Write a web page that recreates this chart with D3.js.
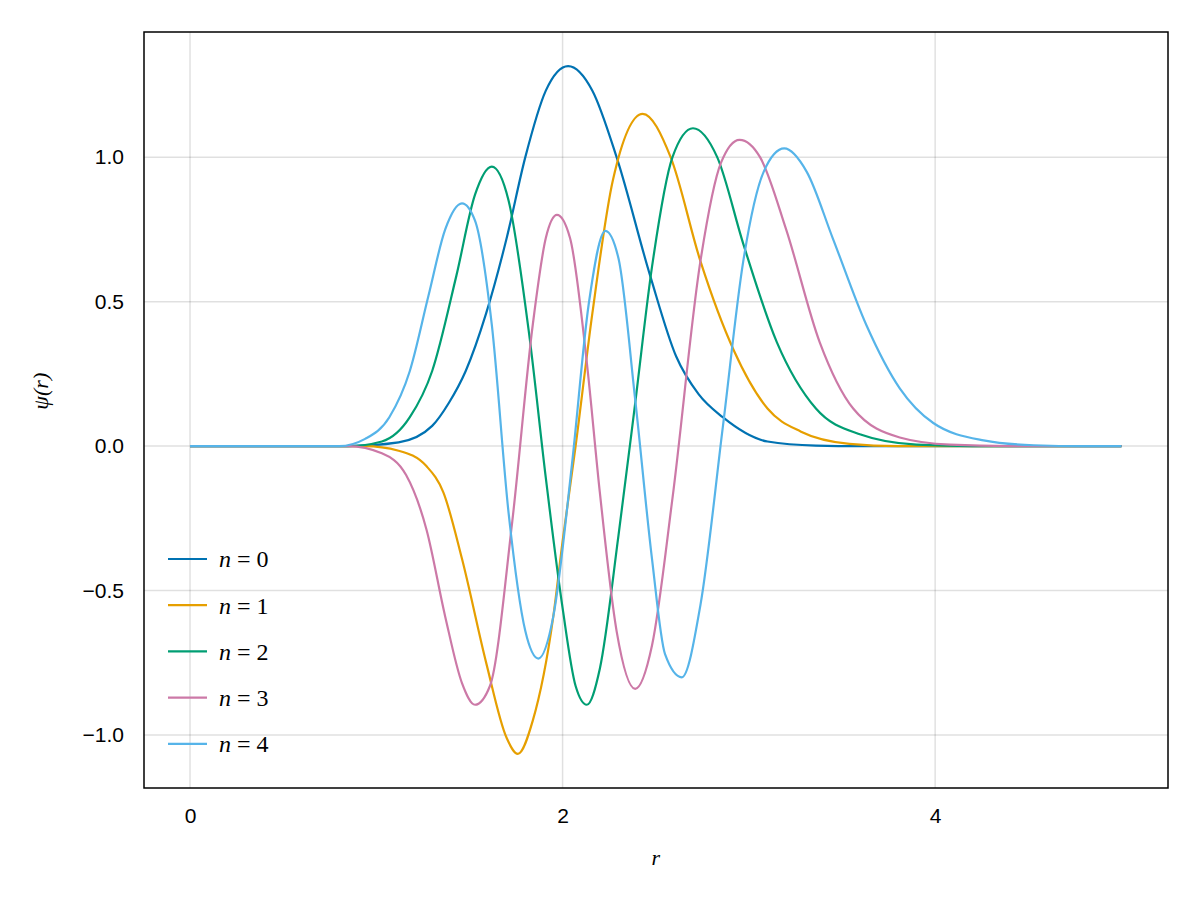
<!DOCTYPE html>
<html>
<head>
<meta charset="utf-8">
<script src="https://cdn.jsdelivr.net/npm/d3@7"></script>
<style>
  body { margin: 0; background: #fff; }
</style>
</head>
<body>
<svg id="chart" width="1200" height="900"></svg>
<script>
// values: [r, psi]
var n0 = [[0,0],[0.85,0],[1.12,0.013],[1.30,0.07],[1.39,0.15],[1.48,0.26],[1.59,0.46],[1.70,0.72],[1.80,1.0],[1.91,1.23],[2.03,1.315],[2.16,1.23],[2.29,1.0],[2.47,0.59],[2.61,0.31],[2.73,0.18],[2.86,0.10],[3.10,0.016],[3.36,0.002],[3.6,0],[5,0]];
var n1 = [[0,0],[0.94,0],[1.12,-0.016],[1.27,-0.07],[1.36,-0.16],[1.46,-0.39],[1.59,-0.75],[1.70,-1.01],[1.76,-1.065],[1.84,-0.95],[1.95,-0.59],[2.0,-0.33],[2.07,0],[2.16,0.46],[2.27,0.92],[2.43,1.15],[2.58,1.0],[2.74,0.64],[2.92,0.33],[3.10,0.13],[3.28,0.05],[3.54,0.008],[3.8,0],[5,0]];
var n2 = [[0,0],[0.85,0],[1.03,0.016],[1.18,0.10],[1.30,0.26],[1.43,0.59],[1.53,0.87],[1.62,0.967],[1.71,0.85],[1.82,0.39],[1.91,-0.11],[2.0,-0.56],[2.07,-0.83],[2.13,-0.895],[2.20,-0.77],[2.30,-0.31],[2.39,0.15],[2.48,0.62],[2.59,1.0],[2.70,1.10],[2.83,1.0],[2.97,0.70],[3.15,0.36],[3.36,0.13],[3.60,0.04],[3.90,0.005],[4.2,0],[5,0]];
var n3 = [[0,0],[0.85,0],[1.03,-0.025],[1.16,-0.10],[1.27,-0.29],[1.37,-0.59],[1.46,-0.82],[1.53,-0.895],[1.61,-0.83],[1.73,-0.26],[1.84,0.42],[1.91,0.72],[1.97,0.80],[2.04,0.72],[2.13,0.29],[2.20,-0.16],[2.29,-0.64],[2.39,-0.84],[2.48,-0.69],[2.59,-0.18],[2.74,0.64],[2.85,0.98],[2.95,1.06],[3.06,1.0],[3.20,0.75],[3.38,0.36],[3.56,0.13],[3.81,0.03],[4.08,0.005],[4.4,0],[5,0]];
var n4 = [[0,0],[0.80,0],[0.94,0.025],[1.07,0.10],[1.18,0.26],[1.28,0.52],[1.37,0.75],[1.46,0.84],[1.53,0.78],[1.62,0.42],[1.71,-0.23],[1.80,-0.64],[1.87,-0.735],[1.95,-0.59],[2.05,-0.065],[2.14,0.49],[2.23,0.745],[2.30,0.65],[2.39,0.16],[2.48,-0.39],[2.55,-0.72],[2.64,-0.80],[2.74,-0.55],[2.86,0.065],[2.97,0.64],[3.08,0.95],[3.19,1.03],[3.31,0.95],[3.45,0.72],[3.63,0.42],[3.81,0.20],[3.99,0.08],[4.26,0.02],[4.53,0.003],[4.8,0],[5,0]];

var series = [n0, n1, n2, n3, n4];
var labels = ["0", "1", "2", "3", "4"];
var colors = ["#0072b2", "#e69f00", "#009e73", "#cc79a7", "#56b4e9"];
var xTicks = [0, 2, 4];
var yTicks = [-1.0, -0.5, 0.0, 0.5, 1.0];

var svg = d3.select("#chart");
var pLeft = 144, pRight = 1168, pTop = 32, pBottom = 788;

var x = d3.scaleLinear().domain([-0.247, 5.25]).range([pLeft, pRight]);
var y = d3.scaleLinear().domain([-1.183, 1.433]).range([pBottom, pTop]);

// grid
svg.append("g").selectAll("line").data(xTicks).enter().append("line")
  .attr("x1", d => x(d)).attr("x2", d => x(d)).attr("y1", pTop).attr("y2", pBottom)
  .attr("stroke", "#000").attr("stroke-opacity", 0.12).attr("stroke-width", 1.5);
svg.append("g").selectAll("line").data(yTicks).enter().append("line")
  .attr("y1", d => y(d)).attr("y2", d => y(d)).attr("x1", pLeft).attr("x2", pRight)
  .attr("stroke", "#000").attr("stroke-opacity", 0.12).attr("stroke-width", 1.5);

// axes
var fmt = d => (d < 0 ? "\u2212" : "") + Math.abs(d).toFixed(1);
var xa = svg.append("g").attr("transform", "translate(0," + pBottom + ")")
  .call(d3.axisBottom(x).tickValues(xTicks).tickSize(0).tickPadding(20).tickFormat(d3.format("d")));
var ya = svg.append("g").attr("transform", "translate(" + pLeft + ",0)")
  .call(d3.axisLeft(y).tickValues(yTicks).tickSize(0).tickPadding(20).tickFormat(fmt));
xa.select(".domain").remove();
ya.select(".domain").remove();
svg.selectAll(".tick text")
  .style("font-family", "'Liberation Sans', Arial, sans-serif").style("font-size", "21px").attr("fill", "#000");

var line = d3.line().x(d => x(d[0])).y(d => y(d[1])).curve(d3.curveMonotoneX);

svg.append("g").selectAll("path").data(series).enter().append("path")
  .attr("d", line).attr("fill", "none")
  .attr("stroke", (d, i) => colors[i]).attr("stroke-width", 2.2);

svg.append("rect").attr("x", pLeft).attr("y", pTop)
  .attr("width", pRight - pLeft).attr("height", pBottom - pTop)
  .attr("fill", "none").attr("stroke", "#000").attr("stroke-width", 1.5);

// legend
var lg = svg.append("g").selectAll("g").data(labels).enter().append("g")
  .attr("transform", (d, i) => "translate(168," + (559 + i * 46.2) + ")");
lg.append("line").attr("x1", 0).attr("x2", 39)
  .attr("stroke", (d, i) => colors[i]).attr("stroke-width", 2.2);
var lt = lg.append("text").attr("x", 51).attr("dy", "0.35em")
  .style("font-family", "'Liberation Serif', 'DejaVu Serif', serif").style("font-size", "24px");
lt.append("tspan").style("font-style", "italic").text("n");
lt.append("tspan").text(" = ");
lt.append("tspan").text(d => d);

// axis labels
svg.append("text").attr("x", x(2.5)).attr("y", 865).attr("text-anchor", "middle")
  .style("font-family", "'Liberation Serif', serif").style("font-style", "italic").style("font-size", "22px")
  .text("r");
svg.append("text").attr("transform", "translate(48," + y(0.19) + ") rotate(-90)")
  .attr("text-anchor", "middle")
  .style("font-family", "'Liberation Serif', serif").style("font-style", "italic").style("font-size", "22px")
  .text("\u03c8(r)");
</script>
</body>
</html>
